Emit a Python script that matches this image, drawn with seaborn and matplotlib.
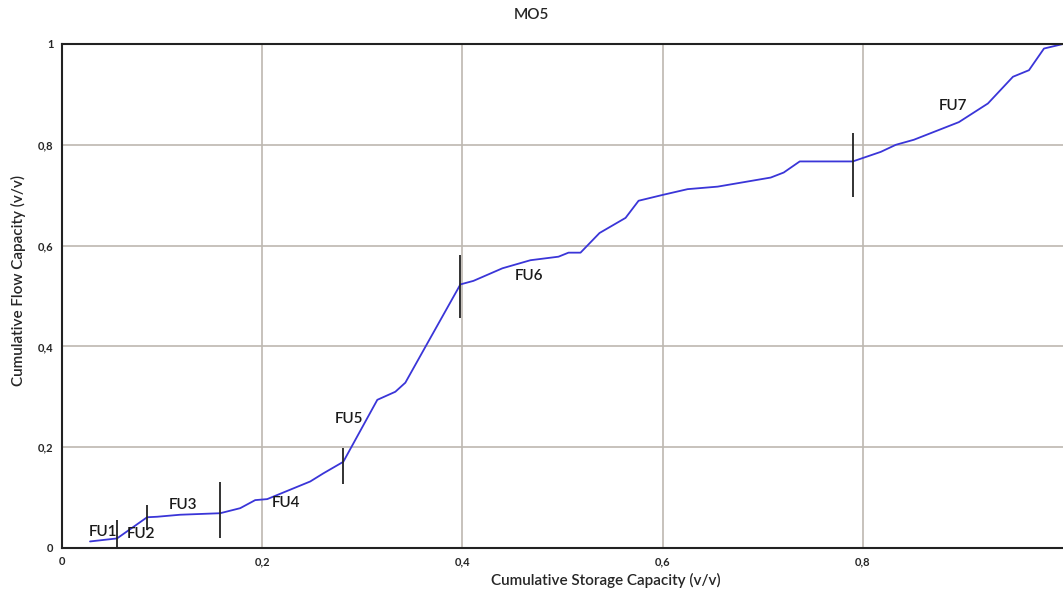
import numpy as np
import pandas as pd
import seaborn as sns
import matplotlib
matplotlib.use("Agg")
import matplotlib.pyplot as plt
from matplotlib.ticker import FuncFormatter, MultipleLocator

# curve
storage = [0.028, 0.055, 0.085, 0.095, 0.118, 0.158, 0.178, 0.193, 0.205, 0.248, 0.261, 0.281,
           0.315, 0.333, 0.343, 0.363, 0.398, 0.411, 0.440, 0.468, 0.496, 0.506, 0.518, 0.537,
           0.563, 0.576, 0.601, 0.625, 0.655, 0.708, 0.721, 0.737, 0.790, 0.818, 0.833, 0.851,
           0.896, 0.925, 0.950, 0.966, 0.981, 1.0]
flow = [0.013, 0.019, 0.061, 0.062, 0.066, 0.069, 0.079, 0.095, 0.097, 0.132, 0.148, 0.171,
        0.294, 0.310, 0.328, 0.399, 0.523, 0.530, 0.555, 0.571, 0.578, 0.586, 0.586, 0.625,
        0.655, 0.689, 0.701, 0.712, 0.717, 0.735, 0.745, 0.767, 0.767, 0.786, 0.800, 0.810,
        0.845, 0.882, 0.935, 0.948, 0.991, 1.0]

# flow unit boundaries (vertical bars)
bound_x = [0.0547, 0.0847, 0.158, 0.281, 0.398, 0.790]
bound_lo = [-0.003, 0.036, 0.019, 0.127, 0.457, 0.696]
bound_hi = [0.056, 0.085, 0.130, 0.198, 0.581, 0.824]

units = ["FU1", "FU2", "FU3", "FU4", "FU5", "FU6", "FU7"]
unit_x = [0.0405, 0.079, 0.1205, 0.2235, 0.287, 0.467, 0.8905]
unit_y = [0.032, 0.028, 0.086, 0.089, 0.256, 0.540, 0.876]

df = pd.DataFrame({"storage": storage, "flow": flow})

sns.set_style("white")
plt.rcParams["font.family"] = ["Lato", "DejaVu Sans"]

fig = plt.figure(figsize=(10.63, 5.94), dpi=100)
ax = fig.add_axes([62 / 1063, 1 - 548 / 594, 1 - 62 / 1063, 504 / 594])

sns.lineplot(data=df, x="storage", y="flow", sort=False, color="#3a35d8", linewidth=1.3, ax=ax)
ax.vlines(bound_x, bound_lo, bound_hi, color="#222222", linewidth=1.3, zorder=3)
for t, x, y in zip(units, unit_x, unit_y):
    ax.text(x, y, t, ha="center", va="center", fontsize=11, fontweight="semibold", color="#1a1a1a")

ax.set_xlim(0, 1)
ax.set_ylim(0, 1)
ax.xaxis.set_major_locator(MultipleLocator(0.2))
ax.yaxis.set_major_locator(MultipleLocator(0.2))
fmt = FuncFormatter(lambda v, p: ("%g" % round(v, 1)).replace(".", ","))
ax.xaxis.set_major_formatter(fmt)
ax.yaxis.set_major_formatter(fmt)
ax.grid(True, color="#bdb8b0", linewidth=1.2)
ax.set_axisbelow(True)
ax.tick_params(length=0, labelsize=8, pad=6)
ax.set_xticks([0, 0.2, 0.4, 0.6, 0.8])
for lab in ax.get_xticklabels() + ax.get_yticklabels():
    lab.set_fontweight("bold")

for s in ["left", "bottom", "top"]:
    ax.spines[s].set_color("#222222")
    ax.spines[s].set_linewidth(1.5)
ax.spines["right"].set_visible(False)

ax.set_xlabel("Cumulative Storage Capacity (v/v)", fontsize=11, fontweight="semibold")
ax.set_ylabel("Cumulative Flow Capacity (v/v)", fontsize=11, fontweight="semibold")
ax.xaxis.set_label_coords(0.543, -0.05)
ax.yaxis.set_label_coords(-0.036, 0.53)
fig.text(531 / 1063, 1 - 15 / 594, "MO5", ha="center", va="center", fontsize=11, fontweight="semibold")

fig.savefig("out.png", dpi=100)
